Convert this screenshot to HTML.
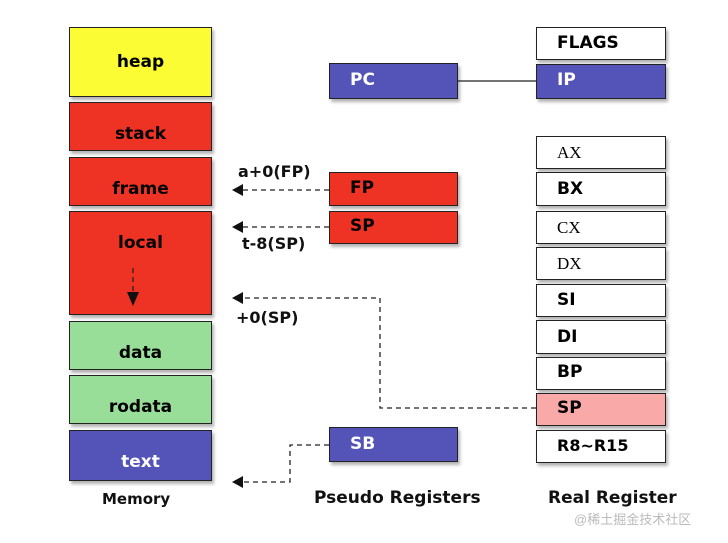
<!DOCTYPE html>
<html><head><meta charset="utf-8"><style>
body{margin:0;width:728px;height:543px;background:#fff;position:relative;overflow:hidden;font-family:"DejaVu Sans","Liberation Sans",sans-serif;}
.b{position:absolute;box-sizing:border-box;border:1.5px solid #222;box-shadow:2px 3px 3px rgba(0,0,0,0.3);font-weight:bold;font-size:17px;}
.m{text-align:center;}
.y{background:#fcfc35}.r{background:#ee3325}.g{background:#98dd98}.p{background:#5353b8;color:#fff}.w{background:#fff}.k{background:#f9aaa8}
.t{position:absolute;font-weight:bold;font-size:16px;color:#111;white-space:nowrap}
.reg{padding-left:20px;}
</style></head><body>
<div class="b m y" style="left:69px;top:27px;width:143px;height:70px;line-height:68px">heap</div>
<div class="b m r" style="left:69px;top:102px;width:143px;height:49px;padding-top:21px">stack</div>
<div class="b m r" style="left:69px;top:157px;width:143px;height:49px;padding-top:21px">frame</div>
<div class="b m r" style="left:69px;top:211px;width:143px;height:104px;padding-top:21px">local</div>
<div class="b m g" style="left:69px;top:321px;width:143px;height:49px;padding-top:21px">data</div>
<div class="b m g" style="left:69px;top:375px;width:143px;height:49px;padding-top:21px">rodata</div>
<div class="b m p" style="left:69px;top:430px;width:143px;height:51px;padding-top:21px">text</div>

<div class="b p reg" style="left:329px;top:63px;width:129px;height:36px;line-height:33px">PC</div>
<div class="b r reg" style="left:329px;top:172px;width:129px;height:34px;line-height:31px">FP</div>
<div class="b r reg" style="left:329px;top:211px;width:129px;height:33px;line-height:28px">SP</div>
<div class="b p reg" style="left:329px;top:427px;width:129px;height:35px;line-height:32px">SB</div>

<div class="b w reg" style="left:536px;top:27px;width:130px;height:33px;line-height:31px">FLAGS</div>
<div class="b p reg" style="left:536px;top:64px;width:130px;height:35px;line-height:31px">IP</div>
<div class="b w reg" style="left:536px;top:136px;width:130px;height:33px;line-height:32px;font-weight:normal;font-family:'Liberation Serif',serif">AX</div>
<div class="b w reg" style="left:536px;top:172px;width:130px;height:34px;line-height:32px">BX</div>
<div class="b w reg" style="left:536px;top:211px;width:130px;height:33px;line-height:31px;font-weight:normal;font-family:'Liberation Serif',serif">CX</div>
<div class="b w reg" style="left:536px;top:247px;width:130px;height:33px;line-height:31px;font-weight:normal;font-family:'Liberation Serif',serif">DX</div>
<div class="b w reg" style="left:536px;top:284px;width:130px;height:33px;line-height:31px">SI</div>
<div class="b w reg" style="left:536px;top:320px;width:130px;height:34px;line-height:32px">DI</div>
<div class="b w reg" style="left:536px;top:357px;width:130px;height:33px;line-height:29px">BP</div>
<div class="b k reg" style="left:536px;top:393px;width:130px;height:33px;line-height:29px">SP</div>
<div class="b w reg" style="left:536px;top:430px;width:130px;height:33px;line-height:29px;font-size:16px">R8~R15</div>

<svg style="position:absolute;left:0;top:0" width="728" height="543">
<g stroke="#222" stroke-width="1.3" fill="none" stroke-dasharray="5,4">
<line x1="329" y1="190" x2="242" y2="190"/>
<line x1="329" y1="227" x2="242" y2="227"/>
<polyline points="536,408 380,408 380,298 242,298"/>
<polyline points="329,445 290,445 290,482 242,482"/>
<line x1="133" y1="268" x2="133" y2="292"/>
</g>
<line x1="458" y1="81" x2="536" y2="81" stroke="#222" stroke-width="1.3"/>
<g fill="#111">
<polygon points="232,190 243,184 243,196"/>
<polygon points="232,227 243,221 243,233"/>
<polygon points="232,298 243,292 243,304"/>
<polygon points="232,482 243,476 243,488"/>
<polygon points="133,306 127,292 139,292"/>
</g>
</svg>
<div class="t" style="left:238px;top:162px">a+0(FP)</div>
<div class="t" style="left:242px;top:234px">t-8(SP)</div>
<div class="t" style="left:236px;top:308px">+0(SP)</div>
<div class="t" style="left:102px;top:490px;font-size:15px">Memory</div>
<div class="t" style="left:314px;top:488px;font-size:17px">Pseudo Registers</div>
<div class="t" style="left:548px;top:488px;font-size:17px">Real Register</div>
<div class="t" style="left:574px;top:509px;font-size:13px;font-weight:normal;color:#bbb;font-family:'Liberation Sans','Noto Sans CJK SC',sans-serif">@稀土掘金技术社区</div>
</body></html>
